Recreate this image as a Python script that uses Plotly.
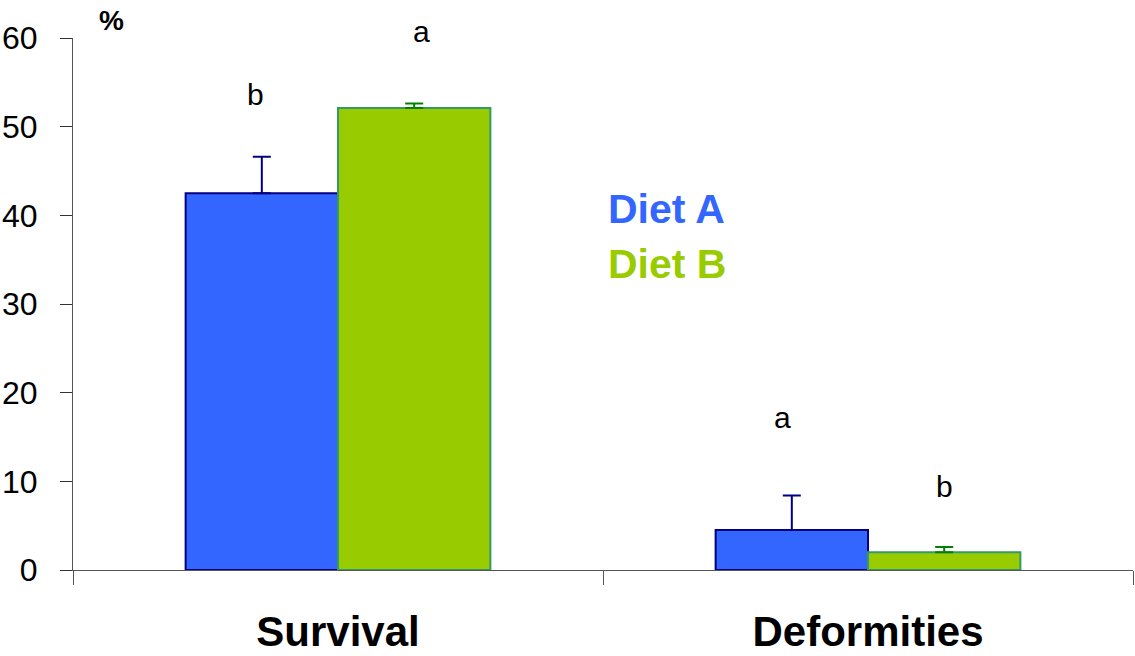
import plotly.graph_objects as go

categories = ["Survival", "Deformities"]
diet_a = [42.5, 4.5]
diet_a_err = [4.1, 3.9]
diet_b = [52.1, 2.0]
diet_b_err = [0.5, 0.6]
letters_a = ["b", "a"]
letters_b = ["a", "b"]
y_ticks = [0, 10, 20, 30, 40, 50, 60]

FONT = "Liberation Sans, Arial, sans-serif"
BLUE = "#3366FF"
GREEN = "#99CC00"

fig = go.Figure()
fig.add_trace(go.Bar(
    x=categories, y=diet_a, name="Diet A",
    marker=dict(color=BLUE, line=dict(color="#000080", width=2)),
    error_y=dict(type="data", array=diet_a_err, symmetric=False, arrayminus=[0, 0],
                 color="#000080", thickness=2, width=9),
))
fig.add_trace(go.Bar(
    x=categories, y=diet_b, name="Diet B",
    marker=dict(color=GREEN, line=dict(color="#339966", width=2)),
    error_y=dict(type="data", array=diet_b_err, symmetric=False, arrayminus=[0, 0],
                 color="#008000", thickness=2, width=9),
))

annotations = []
offsets = [(-0.155, 0.158), (-0.162, 0.145)]
shifts = [(62, 72), (78, 60)]
for i in range(len(categories)):
    annotations.append(dict(x=i + offsets[i][0], y=diet_a[i] + diet_a_err[i], xref="x", yref="y",
                            text=letters_a[i], showarrow=False, yshift=shifts[i][0],
                            yanchor="middle",
                            font=dict(family=FONT, size=30, color="black")))
    annotations.append(dict(x=i + offsets[i][1], y=diet_b[i] + diet_b_err[i], xref="x", yref="y",
                            text=letters_b[i], showarrow=False, yshift=shifts[i][1],
                            yanchor="middle",
                            font=dict(family=FONT, size=30, color="black")))

W, H = 1135, 656
ml, mr, mt, mb = 73, 2, 38, 86
pw, ph = W - ml - mr, H - mt - mb
def px(xp, yp):
    return (xp - ml) / pw, 1 - (yp - mt) / ph

for text, pos, size, color in [
    ("<b>%</b>", (97, 20), 28, "black"),
    ("<b>Diet A</b>", (606, 209), 41, BLUE),
    ("<b>Diet B</b>", (606, 264), 41, GREEN),
]:
    xx, yy = px(*pos)
    annotations.append(dict(x=xx, y=yy, xref="paper", yref="paper", text=text,
                            showarrow=False, xanchor="left", yanchor="middle",
                            font=dict(family=FONT, size=size, color=color)))

fig.update_layout(
    width=W, height=H,
    margin=dict(l=ml, r=mr, t=mt, b=mb, autoexpand=False),
    plot_bgcolor="white", paper_bgcolor="white",
    barmode="group", bargap=0.425, bargroupgap=0,
    showlegend=False,
    annotations=annotations,
    font=dict(family=FONT, color="black"),
)
fig.update_xaxes(
    type="category", tickson="boundaries", ticks="outside", ticklen=14, tickcolor="#555",
    showline=True, linecolor="#555", linewidth=1, showgrid=False, automargin=False,
    tickfont=dict(family=FONT, size=42, color="black"),
    tickvals=categories, ticktext=["<b>%s</b>" % c for c in categories],
    ticklabelstandoff=25,
)
fig.update_yaxes(
    range=[0, 60], tickvals=y_ticks, ticks="outside", ticklen=12, tickcolor="#333",
    showline=True, linecolor="#555", linewidth=1, showgrid=False, zeroline=False,
    automargin=False,
    tickfont=dict(family=FONT, size=32, color="black"),
    ticklabelstandoff=16,
)

fig.write_html(
    "out.html",
    config={"displayModeBar": False},
    post_script="document.body.style.margin='0';document.body.style.overflow='hidden';",
)
